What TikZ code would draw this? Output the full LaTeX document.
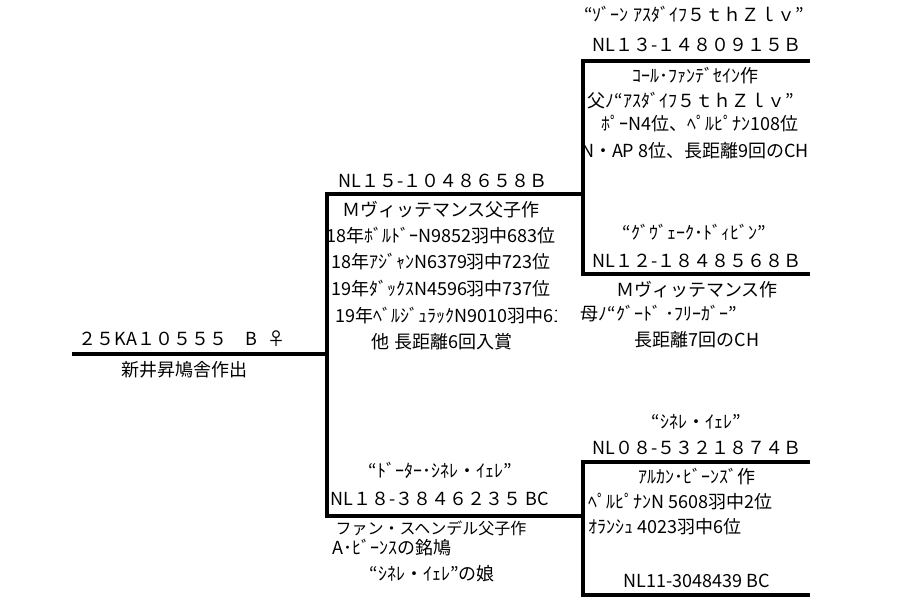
\documentclass[tikz,border=0pt]{standalone}
\usepackage{fontspec}
\newfontfamily\jp{Noto Sans CJK JP}
\begin{document}
\begin{tikzpicture}[x=1pt,y=-1pt,
  txt/.style={inner sep=0pt,anchor=base,font=\jp\fontsize{18}{18}\selectfont},
  txtl/.style={txt,anchor=base west},
  smalltxt/.style={txt,font=\jp\fontsize{16}{16}\selectfont},
  bline/.style={line width=4pt,line join=miter,draw=black}]
\useasboundingbox (0,0) rectangle (900,610);
\fill[white] (0,0) rectangle (900,610);
% coordinates for lines
\coordinate (s0) at (72,354);
\coordinate (j0) at (327,354);
\coordinate (ua) at (583,194);
\coordinate (uc) at (327,194);
\coordinate (lc) at (327,516);
\coordinate (la) at (583,516);
\coordinate (t1) at (810,61);
\coordinate (t1c) at (583,61);
\coordinate (t2c) at (583,274);
\coordinate (t2) at (810,274);
\coordinate (b1) at (810,462);
\coordinate (b1c) at (583,462);
\coordinate (b2c) at (583,595);
\coordinate (b2) at (810,595);
\draw[bline] (s0) -- (j0);
\draw[bline] (ua) -- (uc) -- (lc) -- (la);
\draw[bline] (t1) -- (t1c) -- (t2c) -- (t2);
\draw[bline] (b1) -- (b1c) -- (b2c) -- (b2);
% left
\node[txt] (n0) at (182,345) {２５KA１０５５５　B\hspace{10pt}♀};
\node[txt] (n0b) at (184,376) {新井昇鳩舎作出};
% middle upper
\node[txt] (s1) at (443,187) {NL１５-１０４８６５８Ｂ};
\node[txt] (s1a) at (441,216) {Ｍヴィッテマンス父子作};
\node[txt] (s1b) at (441,242) {18年ﾎﾞﾙﾄﾞｰN9852羽中683位};
\node[txt] (s1c) at (441,268) {18年ｱｼﾞｬﾝN6379羽中723位};
\node[txt] (s1d) at (441,295) {19年ﾀﾞｯｸｽN4596羽中737位};
\begin{scope}
\clip (329,300) rectangle (556,330);
\node[txtl] (s1e) at (335,322) {19年ﾍﾞﾙｼﾞｭﾗｯｸN9010羽中61};
\end{scope}
\node[txt] (s1f) at (442,348) {他 長距離6回入賞};
% top right
\node[txt] (ss1) at (694,22) {“ｿﾞｰﾝ ｱｽﾀﾞｲﾌ５ｔｈＺｌｖ”};
\node[txt] (ss2) at (697,52) {NL１３-１４８０９１５Ｂ};
\node[txt] (ss3) at (695,83) {ｺｰﾙ･ﾌｧﾝﾃﾞｾｲﾝ作};
\node[txt] (ss4) at (691,107) {父ﾉ“ｱｽﾀﾞｲﾌ５ｔｈＺｌｖ”};
\node[txt] (ss5) at (700,130) {ﾎﾟｰN4位、ﾍﾟﾙﾋﾟﾅﾝ108位};
\node[txt] (ss6) at (695,157) {N・AP 8位、長距離9回のCH};
\node[txt] (sd1) at (694,239) {“ｸﾞｳﾞｪｰｸ･ﾄﾞｨﾋﾞﾝ”};
\node[txt] (sd2) at (697,267) {NL１２-１８４８５６８Ｂ};
\node[txt] (sd3) at (697,296) {Ｍヴィッテマンス作};
\node[txt] (sd4) at (659,320) {母ﾉ“ｸﾞｰﾄﾞ ･ﾌﾘｰｶﾞｰ”};
\node[txt] (sd5) at (697,346) {長距離7回のCH};
% middle lower
\node[txt] (d1a) at (440,477) {“ﾄﾞｰﾀｰ･ｼﾈﾚ・ｲｪﾚ”};
\node[txt] (d1) at (440,505) {NL１８-３８４６２３５ BC};
\node[smalltxt] (d1b) at (431,534) {ファン・スヘンデル父子作};
\node[txtl] (d1c) at (332,554) {A･ﾋﾞｰﾝｽの銘鳩};
\node[txt] (d1d) at (432,580) {“ｼﾈﾚ・ｲｪﾚ”の娘};
% lower right
\node[txt] (dd1) at (696,428) {“ｼﾈﾚ・ｲｪﾚ”};
\node[txt] (dd2) at (697,454) {NL０８-５３２１８７４Ｂ};
\node[txt] (dd3) at (697,483) {ｱﾙｶﾝ･ﾋﾞｰﾝｽﾞ作};
\node[txtl] (dd4) at (588,508) {ﾍﾟﾙﾋﾟﾅﾝN 5608羽中2位};
\node[txtl] (dd5) at (588,533) {ｵﾗﾝｼｭ 4023羽中6位};
\node[txt] (dd6) at (697,587) {NL11-3048439 BC};
\end{tikzpicture}
\end{document}
